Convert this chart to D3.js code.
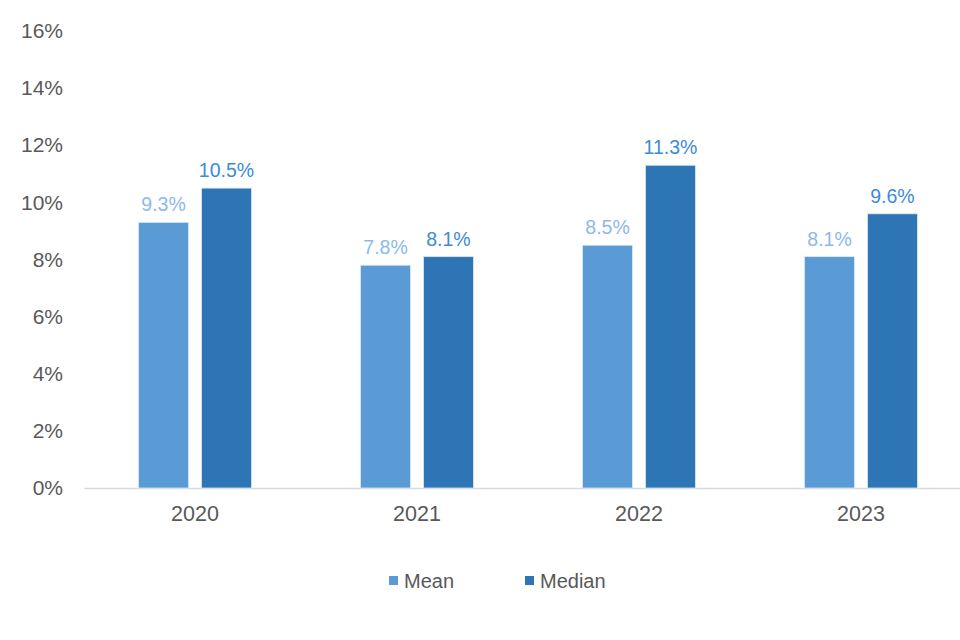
<!DOCTYPE html>
<html><head><meta charset="utf-8">
<script src="https://cdn.jsdelivr.net/npm/d3@7"></script>
<style>body{margin:0;background:#fff;} svg{display:block;font-family:"Liberation Sans",Arial,sans-serif;}</style>
</head><body>
<svg id="c" width="960" height="640"></svg>
<script>
const years = ["2020","2021","2022","2023"];
const seriesNames = ["Mean","Median"];
const meanValues = [9.3,7.8,8.5,8.1];
const medianValues = [10.5,8.1,11.3,9.6];
const yTicks = [0,2,4,6,8,10,12,14,16];
const barColors = ["#5b9bd5","#2e75b6"];
const labelColors = ["#8cb9ea","#3d8ad8"];

const svg = d3.select("#c");
const x = d3.scaleBand().domain(years).range([84,972]);
const xs = d3.scaleBand().domain(seriesNames).range([-56.5,56.5]).paddingInner(13/63);
const y = d3.scaleLinear().domain([0,16]).range([488,31]);

// y axis labels
const ya = svg.append("g").attr("transform","translate(63,0)")
  .call(d3.axisLeft(y).tickValues(yTicks).tickFormat(d=>d+"%").tickSize(0).tickPadding(0));
ya.select(".domain").remove();
ya.selectAll("text").attr("font-size",21).attr("fill","#595959").attr("font-family","Liberation Sans, Arial, sans-serif");

// x axis
const xa = svg.append("g").attr("transform","translate(0,488)")
  .call(d3.axisBottom(x).tickSize(0).tickPadding(18));
xa.select(".domain").attr("stroke","#d9d9d9").attr("stroke-width",1.5);
xa.selectAll("text").attr("font-size",21.5).attr("fill","#595959").attr("font-family","Liberation Sans, Arial, sans-serif");

const data = years.map((yr,i)=>({year:yr, vals:[{s:"Mean",v:meanValues[i],k:0},{s:"Median",v:medianValues[i],k:1}]}));
const g = svg.append("g");
const grp = g.selectAll("g.grp").data(data).join("g")
  .attr("transform",d=>`translate(${x(d.year)+x.bandwidth()/2},0)`);
grp.selectAll("rect").data(d=>d.vals).join("rect")
  .attr("x",d=>xs(d.s)).attr("width",xs.bandwidth())
  .attr("y",d=>y(d.v)).attr("height",d=>y(0)-y(d.v))
  .attr("fill",d=>barColors[d.k]).attr("stroke","#dce9f6").attr("stroke-width",0.8);
grp.selectAll("text").data(d=>d.vals).join("text")
  .attr("x",d=>xs(d.s)+xs.bandwidth()/2).attr("y",d=>y(d.v)-11)
  .attr("text-anchor","middle").attr("font-size",19.5)
  .attr("fill",d=>labelColors[d.k])
  .text(d=>d.v.toFixed(1)+"%");

// legend
const legX = [389,525];
const lg = svg.append("g");
seriesNames.forEach((s,i)=>{
  lg.append("rect").attr("x",legX[i]).attr("y",576).attr("width",9).attr("height",9).attr("fill",barColors[i]);
  lg.append("text").attr("x",legX[i]+15).attr("y",588).attr("font-size",20).attr("fill","#595959").text(s);
});
</script>
</body></html>
